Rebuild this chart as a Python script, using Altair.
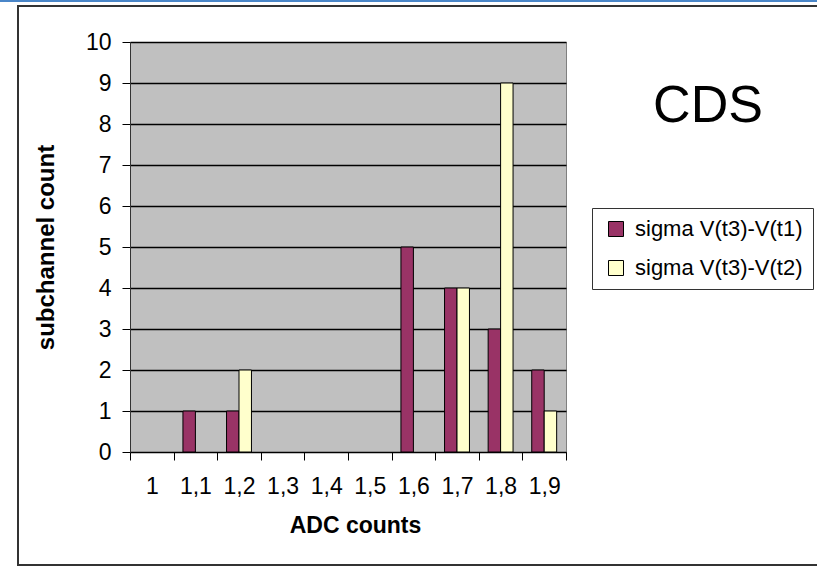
import altair as alt
import pandas as pd

categories = ["1", "1,1", "1,2", "1,3", "1,4", "1,5", "1,6", "1,7", "1,8", "1,9"]
series_names = ["sigma V(t3)-V(t1)", "sigma V(t3)-V(t2)"]
s1_values = [0, 1, 1, 0, 0, 0, 5, 4, 3, 2]
s2_values = [0, 0, 2, 0, 0, 0, 0, 4, 9, 1]
colors = ["#993366", "#ffffcc"]
y_ticks = list(range(0, 11))

rows = []
for c, v in zip(categories, s1_values):
    rows.append({"cat": c, "series": series_names[0], "val": v})
for c, v in zip(categories, s2_values):
    rows.append({"cat": c, "series": series_names[1], "val": v})
df = pd.DataFrame(rows)
df = df[df["val"] > 0]

FONT = "Liberation Sans"

bars = alt.Chart(df).mark_bar(stroke="black", strokeWidth=1).encode(
    x=alt.X("cat:N", sort=categories,
            scale=alt.Scale(domain=categories, paddingInner=0, paddingOuter=0),
            axis=alt.Axis(title="ADC counts", labelAngle=0, tickBand="extent",
                          tickSize=8, tickColor="black", domainColor="black",
                          labelFontSize=23, labelPadding=15, labelColor="black",
                          labelFont=FONT, grid=False,
                          titleFont=FONT, titleFontSize=23, titleFontWeight="bold",
                          titleColor="black", titleX=225, titleY=80,
                          titleBaseline="alphabetic")),
    xOffset=alt.XOffset("series:N", sort=series_names,
                        scale=alt.Scale(domain=series_names, paddingInner=0, paddingOuter=0.75)),
    y=alt.Y("val:Q", scale=alt.Scale(domain=[0, 10], nice=False),
            axis=alt.Axis(title="subchannel count", values=y_ticks, tickSize=8,
                          tickColor="black", domainColor="#333333",
                          labelFontSize=23, labelPadding=11, labelColor="black",
                          labelFont=FONT, grid=True, gridColor="black", gridWidth=1.5,
                          titleFont=FONT, titleFontSize=24, titleFontWeight="bold",
                          titleColor="black", titleAngle=-90, titleX=-72, titleY=205,
                          titleBaseline="bottom", titleAlign="center")),
    color=alt.Color("series:N", sort=series_names,
                    scale=alt.Scale(domain=series_names, range=colors),
                    legend=alt.Legend(title=None, orient="none", legendX=462, legendY=166,
                                      strokeColor="#333333", fillColor="white", padding=10,
                                      symbolOffset=3, symbolType="square", symbolSize=225,
                                      symbolStrokeColor="black", symbolStrokeWidth=1,
                                      labelFontSize=22, labelFont=FONT, labelColor="black",
                                      labelLimit=400, labelOffset=8, rowPadding=17)),
)

deco = pd.DataFrame({"t": ["CDS"]})

title_text = alt.Chart(deco).mark_text(font=FONT, fontSize=52, color="black",
                                      align="center", baseline="alphabetic").encode(
    text="t:N", x=alt.value(578), y=alt.value(80))

frame = alt.Chart(deco).mark_rect(fill=None, stroke="#333333", strokeWidth=2).encode(
    x=alt.value(-112), x2=alt.value(700), y=alt.value(-36), y2=alt.value(523))

top_line = alt.Chart(deco).mark_rule(color="#4a86c8", strokeWidth=2).encode(
    x=alt.value(-130), x2=alt.value(700), y=alt.value(-41))

chart = alt.layer(frame, top_line, bars, title_text).properties(
    width=436, height=410,
    autosize=alt.AutoSizeParams(type="none"),
    padding={"left": 130, "top": 42, "right": 251, "bottom": 117},
    background="white",
).configure_view(stroke="#808080", strokeWidth=1, fill="#c0c0c0")

chart.save("out.html", embed_options={"renderer": "svg", "actions": False})
